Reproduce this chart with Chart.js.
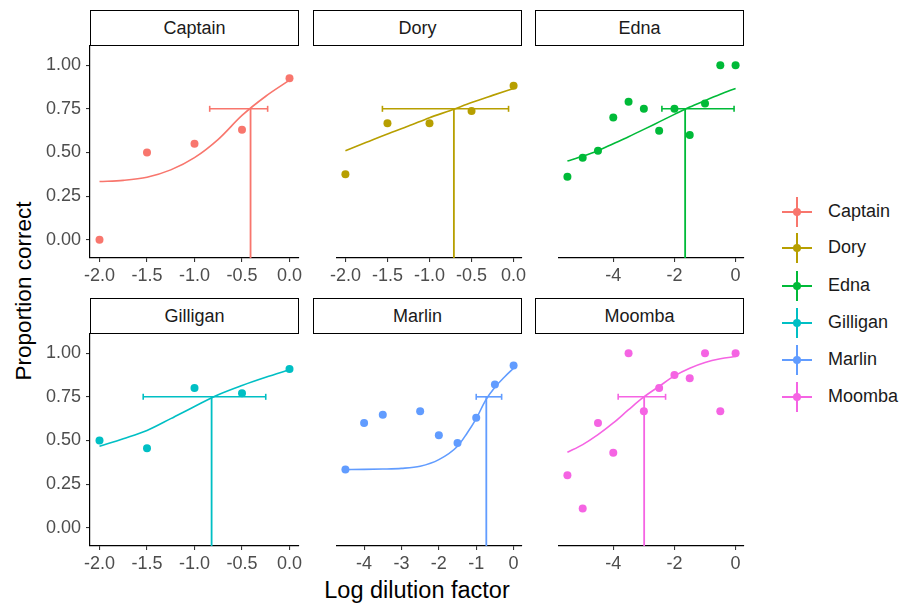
<!DOCTYPE html>
<html>
<head>
<meta charset="utf-8">
<script src="https://cdn.jsdelivr.net/npm/chart.js@4.4.0/dist/chart.umd.min.js"></script>
<style>
  body { margin: 0; background: #fff; width: 913px; height: 605px; position: relative; overflow: hidden;
         font-family: "Liberation Sans", Arial, sans-serif; }
  .strip { position: absolute; box-sizing: border-box; border: 1.6px solid #000; background: #fff;
           color: #1a1a1a; font-size: 18px; display: flex; align-items: center; justify-content: center; }
  .title { position: absolute; color: #000; white-space: nowrap; }
  .legend-row { position: absolute; left: 782px; height: 30px; width: 130px; }
  .legend-row .h { position: absolute; left: 0; top: 14px; width: 30px; height: 1.8px; }
  .legend-row .v { position: absolute; left: 14px; top: 0; width: 1.8px; height: 30px; }
  .legend-row .dot { position: absolute; left: 11px; top: 11px; width: 8px; height: 8px; border-radius: 50%; }
  .legend-row .lab { position: absolute; left: 46px; top: 4px; font-size: 18px; color: #1a1a1a; }
</style>
</head>
<body>
<div class="title" style="left:24px;top:291px;font-size:22.5px;transform:translate(-50%,-50%) rotate(-90deg);">Proportion correct</div>
<div class="title" style="left:417px;top:590px;font-size:23.5px;transform:translate(-50%,-50%);">Log dilution factor</div>
<script>
// subjects and ggplot default hue colours
const subjects = ['Captain', 'Dory', 'Edna', 'Gilligan', 'Marlin', 'Moomba'];
const colors = ['#F8766D', '#B79F00', '#00BA38', '#00BFC4', '#619CFF', '#F564E3'];

// tick values and labels
const yTicks = [0, 0.25, 0.5, 0.75, 1];
const yTickLabels = ['0.00', '0.25', '0.50', '0.75', '1.00'];
const shortTicks = [-2, -1.5, -1, -0.5, 0];
const shortTickLabels = ['-2.0', '-1.5', '-1.0', '-0.5', '0.0'];
const longTicks = [-4, -2, 0];
const longTickLabels = ['-4', '-2', '0'];
const marlinTicks = [-4, -3, -2, -1, 0];
const marlinTickLabels = ['-4', '-3', '-2', '-1', '0'];

// observed dilutions
const shortDil = [-2, -1.5, -1, -0.5, 0];
const longDil = [-5.5, -5, -4.5, -4, -3.5, -3, -2.5, -2, -1.5, -1, -0.5, 0];
const marlinDil = [-4.5, -4, -3.5, -2.5, -2, -1.5, -1, -0.5, 0];

// observed proportions correct
const captainProp = [0.00, 0.50, 0.55, 0.63, 0.925];
const doryProp = [0.375, 0.667, 0.667, 0.737, 0.882];
const ednaProp = [0.36, 0.47, 0.51, 0.70, 0.79, 0.75, 0.625, 0.75, 0.60, 0.78, 1.00, 1.00];
const gilliganProp = [0.50, 0.455, 0.80, 0.77, 0.91];
const marlinProp = [0.333, 0.60, 0.647, 0.667, 0.53, 0.486, 0.63, 0.82, 0.93];
const moombaProp = [0.30, 0.11, 0.60, 0.43, 1.00, 0.667, 0.80, 0.875, 0.857, 1.00, 0.667, 1.00];

// fitted curves
const shortFitX = [-2, -1.75, -1.5, -1.25, -1, -0.75, -0.5, -0.25, 0];
const captainFitY = [0.333, 0.34, 0.358, 0.40, 0.47, 0.575, 0.712, 0.822, 0.914];
const doryFitY = [0.51, 0.558, 0.606, 0.651, 0.699, 0.741, 0.786, 0.827, 0.867];
const gilliganFitY = [0.467, 0.51, 0.557, 0.625, 0.695, 0.762, 0.815, 0.862, 0.905];
const longFitX = [-5.5, -5, -4.5, -4, -3.5, -3, -2.5, -2, -1.5, -1, -0.5, 0];
const ednaFitY = [0.451, 0.478, 0.51, 0.55, 0.59, 0.632, 0.675, 0.718, 0.76, 0.797, 0.833, 0.867];
const moombaFitY = [0.432, 0.476, 0.533, 0.60, 0.676, 0.749, 0.81, 0.87, 0.914, 0.947, 0.968, 0.981];
const marlinFitX = [-4.5, -4, -3.5, -3, -2.5, -2, -1.5, -1.25, -1, -0.75, -0.5, -0.25, 0];
const marlinFitY = [0.333, 0.334, 0.336, 0.34, 0.352, 0.39, 0.467, 0.54, 0.625, 0.73, 0.805, 0.862, 0.914];

// 75% threshold estimates with interval
const threshY = 0.75;
const threshX = [-0.41, -0.71, -1.65, -0.82, -0.73, -2.99];
const threshLo = [-0.84, -1.56, -2.41, -1.54, -1.00, -3.84];
const threshHi = [-0.23, -0.06, -0.05, -0.25, -0.32, -2.29];

// axis limits
const yRange = [-0.105, 1.11];
const shortRange = [-2.1, 0.1];
const longRange = [-5.775, 0.275];
const marlinRange = [-4.725, 0.225];

// layout
const colLeft = [90, 313, 535];
const rowTop = [46, 334];
const plotW = 209, plotH = 212;

const panels = [
    { dil: shortDil, prop: captainProp, fitX: shortFitX, fitY: captainFitY, xr: shortRange, ticks: shortTicks, labels: shortTickLabels },
    { dil: shortDil, prop: doryProp, fitX: shortFitX, fitY: doryFitY, xr: shortRange, ticks: shortTicks, labels: shortTickLabels },
    { dil: longDil, prop: ednaProp, fitX: longFitX, fitY: ednaFitY, xr: longRange, ticks: longTicks, labels: longTickLabels },
    { dil: shortDil, prop: gilliganProp, fitX: shortFitX, fitY: gilliganFitY, xr: shortRange, ticks: shortTicks, labels: shortTickLabels },
    { dil: marlinDil, prop: marlinProp, fitX: marlinFitX, fitY: marlinFitY, xr: marlinRange, ticks: marlinTicks, labels: marlinTickLabels },
    { dil: longDil, prop: moombaProp, fitX: longFitX, fitY: moombaFitY, xr: longRange, ticks: longTicks, labels: longTickLabels }
];

const zip = (xs, ys) => xs.map((x, i) => ({ x: x, y: ys[i] }));

function makePanel(p, i) {
    const col = i % 3, row = Math.floor(i / 3);
    const isLeft = col === 0;
    const color = colors[i];
    // top padding must exceed the y axis label half-height, else the chart area shifts
    const padL = isLeft ? 50 : 24, padR = 24, padT = 18, axisH = 40;
    const w = padL + plotW + padR, h = padT + plotH + axisH;

    // facet strip
    const strip = document.createElement('div');
    strip.className = 'strip';
    strip.style.cssText = `left:${colLeft[col]}px;top:${rowTop[row] - 36}px;width:${plotW}px;height:36px;`;
    strip.textContent = subjects[i];
    document.body.appendChild(strip);

    const cv = document.createElement('canvas');
    cv.width = w;
    cv.height = h;
    cv.style.cssText = `position:absolute;left:${colLeft[col] - padL}px;top:${rowTop[row] - padT}px;`;
    document.body.appendChild(cv);

    const tickFont = { family: 'Liberation Sans', size: 18 };

    new Chart(cv, {
        type: 'scatter',
        data: {
            datasets: [
                {
                    data: zip(p.dil, p.prop),
                    backgroundColor: color,
                    borderWidth: 0,
                    pointRadius: 4,
                    clip: false
                },
                {
                    type: 'line',
                    data: zip(p.fitX, p.fitY),
                    borderColor: color,
                    borderWidth: 1.6,
                    pointRadius: 0,
                    cubicInterpolationMode: 'monotone',
                    fill: false,
                    clip: false
                },
                {
                    type: 'line',
                    data: [{ x: threshX[i], y: threshY }, { x: threshX[i], y: yRange[0] }],
                    borderColor: color,
                    borderWidth: 1.8,
                    pointRadius: 0,
                    fill: false,
                    clip: false
                },
                {
                    type: 'line',
                    data: [{ x: threshLo[i], y: threshY }, { x: threshHi[i], y: threshY }],
                    borderColor: color,
                    borderWidth: 1.6,
                    pointStyle: 'line',
                    pointRotation: 90,
                    pointRadius: 3,
                    pointBorderColor: color,
                    pointBorderWidth: 1.6,
                    fill: false,
                    clip: false
                }
            ]
        },
        options: {
            responsive: false,
            animation: false,
            events: [],
            layout: { padding: { left: isLeft ? 0 : padL, right: padR, top: padT, bottom: 0 } },
            plugins: { legend: { display: false }, tooltip: { enabled: false } },
            scales: {
                x: {
                    type: 'linear',
                    min: p.xr[0],
                    max: p.xr[1],
                    afterBuildTicks: s => { s.ticks = p.ticks.map(v => ({ value: v })); },
                    afterFit: s => { s.height = axisH; },
                    ticks: {
                        autoSkip: false,
                        maxRotation: 0,
                        padding: 3,
                        color: '#4d4d4d',
                        font: tickFont,
                        callback: (v, idx) => p.labels[idx]
                    },
                    grid: { drawOnChartArea: false, drawTicks: true, tickLength: 4, color: '#333', lineWidth: 1.1 },
                    border: { display: true, color: '#000', width: 1.2 }
                },
                y: {
                    type: 'linear',
                    display: isLeft,
                    min: yRange[0],
                    max: yRange[1],
                    afterBuildTicks: s => { s.ticks = yTicks.map(v => ({ value: v })); },
                    afterFit: s => { s.width = padL; },
                    ticks: {
                        padding: 5,
                        color: '#4d4d4d',
                        font: tickFont,
                        callback: (v, idx) => yTickLabels[idx]
                    },
                    grid: { drawOnChartArea: false, drawTicks: true, tickLength: 4, color: '#333', lineWidth: 1.1 },
                    border: { display: true, color: '#000', width: 1.2 }
                }
            }
        }
    });
}

panels.forEach(makePanel);

// legend
const legendTop = [197, 233, 271, 308, 345, 382];
subjects.forEach((name, i) => {
    const row = document.createElement('div');
    row.className = 'legend-row';
    row.style.top = legendTop[i] + 'px';
    row.innerHTML = `<div class="h" style="background:${colors[i]}"></div>` +
        `<div class="v" style="background:${colors[i]}"></div>` +
        `<div class="dot" style="background:${colors[i]}"></div>` +
        `<div class="lab">${name}</div>`;
    document.body.appendChild(row);
});
</script>
</body>
</html>
